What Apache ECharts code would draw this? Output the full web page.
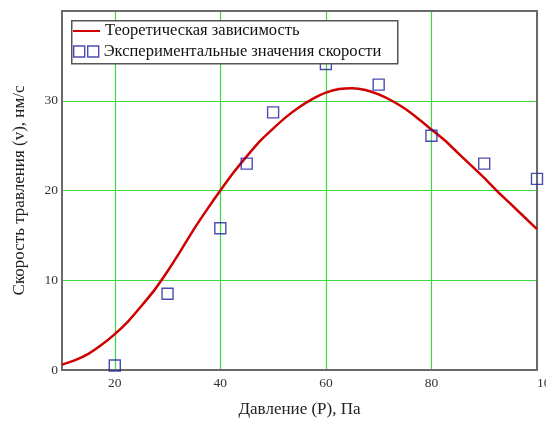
<!DOCTYPE html>
<html>
<head>
<meta charset="utf-8">
<script src="https://cdn.jsdelivr.net/npm/echarts@6/dist/echarts.min.js"></script>
<style>html,body{margin:0;padding:0;background:#fff;}#c{width:546px;height:423px;}</style>
</head>
<body>
<div id="c"></div>
<script>
// Theoretical curve
const curveP = [10,12.5,15,17.5,20,22.5,25,27.5,30,32.5,35,37.5,40,42.5,45,47.5,50,52.5,55,57.5,60,62.5,65,67.5,70,72.5,75,77.5,80,82.5,85,87.5,90,92.5,95,97.5,100];
const curveV = [0.6,1.1,1.8,2.8,4.0,5.4,7.1,8.9,11.0,13.3,15.7,17.9,20.0,22.0,23.8,25.5,26.9,28.2,29.3,30.2,30.9,31.3,31.4,31.2,30.7,30.0,29.1,28.0,26.8,25.6,24.2,22.8,21.4,19.9,18.5,17.1,15.7];
// Experimental points
const expP = [20,30,40,45,50,60,70,80,90,100];
const expV = [0.5,8.5,15.8,23.0,28.7,34.1,31.8,26.1,23.0,21.3];
// Tick values
const xTicks = [20,40,60,80,100];
const yLabels = [0,10,20,30];
const yGrid = [10,20,30];

const nameTheory = 'Теоретическая зависимость';
const nameExp = 'Экспериментальные значения скорости';
const serif = '"Liberation Serif", "DejaVu Serif", serif';

const chart = echarts.init(document.getElementById('c'));
chart.setOption({
  animation: false,
  backgroundColor: '#fff',
  grid: {left: 62, right: 9, top: 11, bottom: 53, containLabel: false, outerBoundsMode: 'none'},
  graphic: [{
    type: 'rect', left: 71, top: 20, z: 5,
    shape: {width: 326, height: 43},
    style: {fill: '#fff', stroke: '#555', lineWidth: 1.5}
  }],
  legend: [{
    data: [{name: nameTheory, icon: 'rect'}],
    left: 73, top: 22, padding: 0, z: 10,
    itemWidth: 27, itemHeight: 2,
    textStyle: {fontFamily: serif, fontSize: 16.5, lineHeight: 18, color: '#111'}
  }, {
    data: [{name: nameExp, icon: 'path://M0,0H11V11H0Z M14,0H25V11H14Z'}],
    left: 73, top: 42.5, padding: 0, z: 10,
    itemWidth: 25, itemHeight: 11,
    itemStyle: {color: 'rgba(0,0,0,0)', borderColor: '#1e1e9c', borderWidth: 1.4},
    textStyle: {fontFamily: serif, fontSize: 16.5, lineHeight: 18, color: '#111'}
  }],
  xAxis: [{
    type: 'value', min: 10, max: 100, position: 'bottom',
    name: 'Давление (Р), Па', nameLocation: 'middle', nameGap: 31,
    nameTextStyle: {fontFamily: serif, fontSize: 17, color: '#222'},
    axisLine: {show: true, onZero: false, lineStyle: {color: '#6a6a6a', width: 2}},
    axisTick: {show: false, customValues: xTicks},
    axisLabel: {customValues: xTicks, fontFamily: serif, fontSize: 13.5, color: '#333', margin: 6, alignMaxLabel: 'left'},
    splitLine: {show: true, lineStyle: {color: '#3cd83c', width: 1.2}}
  }, {
    type: 'value', min: 10, max: 100, position: 'top',
    axisLine: {show: true, onZero: false, lineStyle: {color: '#6a6a6a', width: 2}},
    axisTick: {show: false}, axisLabel: {show: false}, splitLine: {show: false}
  }],
  yAxis: [{
    type: 'value', min: 0, max: 40, position: 'left',
    name: 'Скорость травления (v), нм/с', nameLocation: 'middle', nameGap: 34,
    nameTextStyle: {fontFamily: serif, fontSize: 17, color: '#222'},
    axisLine: {show: true, onZero: false, lineStyle: {color: '#6a6a6a', width: 2}},
    axisTick: {show: false, customValues: yGrid},
    axisLabel: {customValues: yLabels, fontFamily: serif, fontSize: 13.5, color: '#333', margin: 4},
    splitLine: {show: true, lineStyle: {color: '#3cd83c', width: 1.2}}
  }, {
    type: 'value', min: 0, max: 40, position: 'right',
    axisLine: {show: true, onZero: false, lineStyle: {color: '#6a6a6a', width: 2}},
    axisTick: {show: false}, axisLabel: {show: false}, splitLine: {show: false}
  }],
  series: [{
    name: nameTheory, type: 'line', xAxisIndex: 0, yAxisIndex: 0,
    data: curveP.map((p, i) => [p, curveV[i]]),
    smooth: 0.25, showSymbol: false, z: 3,
    lineStyle: {color: '#d00000', width: 2.5},
    itemStyle: {color: '#d00000'}
  }, {
    name: nameExp, type: 'scatter', xAxisIndex: 0, yAxisIndex: 0,
    data: expP.map((p, i) => [p, expV[i]]),
    symbol: 'rect', symbolSize: 11, z: 4,
    itemStyle: {color: 'rgba(0,0,0,0)', borderColor: '#1e1e9c', borderWidth: 1.4}
  }]
});
</script>
</body>
</html>
